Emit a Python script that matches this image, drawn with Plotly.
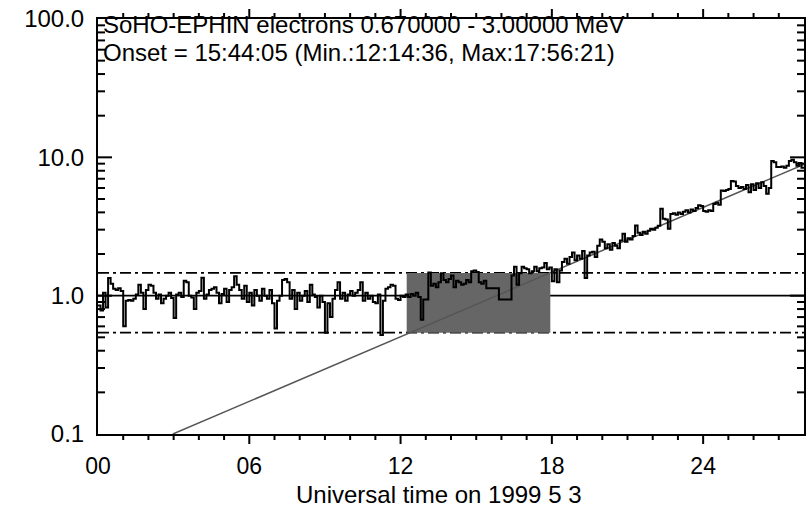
import numpy as np
import plotly.graph_objects as go

# ---- data ----
bin_hours = 0.1
start_hour = 0.0
counts = [
    # hour 0
    0.85, 0.78, 1.05, 0.82, 1.34, 1.22, 1.12, 1.10, 1.13, 1.08,
    # hour 1
    0.60, 0.92, 0.93, 0.92, 0.95, 1.02, 1.20, 1.05, 0.80, 1.10,
    # hour 2
    1.20, 1.18, 1.05, 0.95, 1.02, 0.88, 0.95, 1.00, 1.05, 0.96,
    # hour 3
    0.69, 1.02, 1.05, 0.98, 1.28, 1.25, 1.00, 0.97, 0.80, 1.05,
    # hour 4
    1.08, 1.35, 0.95, 1.02, 1.10, 1.12, 1.15, 1.05, 0.88, 1.03,
    # hour 5
    1.12, 0.90, 1.10, 1.15, 1.38, 1.20, 1.10, 0.95, 1.18, 0.90,
    # hour 6
    1.05, 0.85, 1.10, 1.00, 0.92, 1.12, 1.00, 0.95, 1.10, 0.88,
    # hour 7
    0.58, 0.92, 1.00, 1.30, 1.32, 1.25, 0.95, 1.10, 0.80, 1.05,
    # hour 8
    0.92, 1.00, 1.08, 0.90, 1.20, 1.02, 0.98, 0.82, 1.00, 0.90,
    # hour 9
    0.54, 0.88, 0.70, 0.95, 1.10, 1.25, 0.95, 1.05, 0.92, 1.02,
    # hour 10
    1.08, 1.00, 1.05, 1.10, 1.25, 0.92, 1.05, 0.95, 1.00, 0.90,
    # hour 11
    0.88, 1.02, 0.52, 0.92, 1.12, 1.15, 1.20, 1.18, 0.95, 0.93,
    # hour 12
    1.00, 0.98, 1.02, 0.98, 1.03, 1.00, 1.05, 0.98, 0.67, 0.94,
    # hour 13
    0.94, 1.47, 1.18, 1.22, 1.15, 1.25, 1.45, 1.30, 1.25, 1.32,
    # hour 14
    1.40, 1.15, 1.28, 1.25, 1.20, 1.22, 1.30, 1.25, 1.50, 1.52,
    # hour 15
    1.48, 1.25, 1.22, 1.28, 1.13, 1.13, 1.13, 1.13, 1.13, 0.94,
    # hour 16
    0.94, 0.94, 0.94, 0.94, 1.40, 1.62, 1.20, 1.45, 1.62, 1.58,
    # hour 17
    1.55, 1.45, 1.50, 1.62, 1.50, 1.58, 1.60, 1.72, 1.55, 1.60,
    # hour 18
    1.27, 1.55, 1.25, 1.52, 1.75, 1.85, 1.70, 1.90, 2.05, 1.80,
    # hour 19
    1.95, 1.85, 2.10, 1.34, 1.95, 2.05, 2.08, 1.90, 2.30, 2.55,
    # hour 20
    2.45, 2.20, 2.35, 2.15, 2.40, 2.30, 2.20, 2.50, 2.80, 2.45,
    # hour 21
    2.60, 2.55, 2.70, 3.22, 2.85, 2.75, 2.90, 2.80, 2.95, 3.05,
    # hour 22
    3.00, 3.10, 3.20, 4.25, 3.60, 3.55, 3.05, 3.90, 3.95, 3.85,
    # hour 23
    4.00, 3.90, 4.05, 4.15, 4.00, 4.20, 4.10, 4.30, 4.50, 4.45,
    # hour 24
    4.10, 4.05, 4.15, 4.10, 4.60, 4.70, 4.55, 5.75, 5.70, 5.80,
    # hour 25
    5.90, 6.75, 6.70, 6.20, 6.00, 6.10, 5.90, 6.30, 5.60, 6.40,
    # hour 26
    5.80, 6.50, 6.00, 6.60, 6.20, 5.45, 6.00, 9.40, 9.20, 8.50,
    # hour 27
    8.50, 8.60, 8.40, 8.70, 9.40, 9.60, 9.20, 8.70, 9.10, 8.40,
]

background_mean = 1.0
threshold_upper = 1.46
threshold_lower = 0.54
window_start = 12.243   # 12:14:36
window_end = 17.939     # 17:56:21
fit_x = [2.97, 28.0]
fit_y = [0.1, 8.9]

x_range = [0, 28]
x_tickvals = [0, 6, 12, 18, 24]
x_ticktext = ["00", "06", "12", "18", "24"]
x_minor = [h for h in range(1, 28) if h % 6 != 0]
y_tickvals = [0.1, 1, 10, 100]
y_ticktext = ["0.1", "1.0", "10.0", "100.0"]
y_major_marks = [1, 10]
y_minor = [m * d for d in (0.1, 1, 10) for m in range(2, 10)]

title_line1 = "SoHO-EPHIN electrons 0.670000 - 3.00000 MeV"
title_line2 = "Onset = 15:44:05 (Min.:12:14:36, Max:17:56:21)"
x_title = "Universal time on 1999 5 3"

# ---- build ----
t = start_hour + bin_hours * np.arange(len(counts))
t_plot = np.append(t, x_range[1])
c_plot = counts + [counts[-1]]

FONT = "Liberation Sans, Arial, sans-serif"

fig = go.Figure()

fig.add_trace(go.Scatter(
    x=fit_x, y=fit_y, mode="lines",
    line=dict(color="#555555", width=1.5), hoverinfo="skip", showlegend=False))

fig.add_trace(go.Scatter(
    x=t_plot, y=c_plot, mode="lines", line_shape="hv",
    line=dict(color="black", width=2), showlegend=False))

dashdot = "11px,4px,3px,4px"
shapes = [
    dict(type="line", xref="x", yref="y", x0=x_range[0], x1=x_range[1],
         y0=background_mean, y1=background_mean, layer="below",
         line=dict(color="black", width=1.8)),
    dict(type="line", xref="x", yref="y", x0=x_range[0], x1=x_range[1],
         y0=threshold_upper, y1=threshold_upper, layer="below",
         line=dict(color="black", width=1.8, dash=dashdot)),
    dict(type="line", xref="x", yref="y", x0=x_range[0], x1=x_range[1],
         y0=threshold_lower, y1=threshold_lower, layer="below",
         line=dict(color="black", width=1.8, dash=dashdot)),
    dict(type="rect", xref="x", yref="y", x0=window_start, x1=window_end,
         y0=threshold_lower, y1=threshold_upper, layer="below",
         fillcolor="#666666", line=dict(width=0)),
]

TICK = dict(color="black", width=2)


def x_tick(v, length, top):
    return dict(type="line", xref="x", yref="paper", x0=v, x1=v,
                ysizemode="pixel", yanchor=1 if top else 0,
                y0=0, y1=length if top else -length, line=TICK)


def y_tick(v, length, right):
    return dict(type="line", xref="paper", yref="y", y0=v, y1=v,
                xsizemode="pixel", xanchor=1 if right else 0,
                x0=0, x1=-length if right else length, line=TICK)


for v in x_tickvals[1:]:
    shapes += [x_tick(v, 10, False), x_tick(v, 10, True)]
for v in x_minor:
    shapes += [x_tick(v, 6, False), x_tick(v, 6, True)]
for v in y_major_marks:
    shapes += [y_tick(v, 14, False), y_tick(v, 14, True)]
for v in y_minor:
    shapes += [y_tick(v, 7, False), y_tick(v, 7, True)]

annotations = [
    dict(xref="paper", yref="paper", x=0.004, y=0.987, xanchor="left", yanchor="middle",
         text=title_line1, showarrow=False, font=dict(family=FONT, size=24, color="black")),
    dict(xref="paper", yref="paper", x=0.004, y=0.919, xanchor="left", yanchor="middle",
         text=title_line2, showarrow=False, font=dict(family=FONT, size=24, color="black")),
    dict(xref="paper", yref="paper", x=0.483, y=-0.145, xanchor="center", yanchor="middle",
         text=x_title, showarrow=False, font=dict(family=FONT, size=24, color="black")),
]

fig.update_layout(
    width=811, height=511,
    margin=dict(l=98, r=5, t=15, b=77),
    paper_bgcolor="white", plot_bgcolor="white",
    shapes=shapes, annotations=annotations,
    showlegend=False,
    font=dict(family=FONT, size=23, color="black"),
)

fig.update_xaxes(
    range=x_range, showgrid=False, zeroline=False,
    showline=True, linecolor="black", linewidth=2, mirror=True,
    ticks="", tickvals=x_tickvals, ticktext=x_ticktext, ticklabelstandoff=10,
    tickfont=dict(family=FONT, size=23, color="black"),
)
fig.update_yaxes(
    type="log", range=[-1, 2], showgrid=False, zeroline=False,
    showline=True, linecolor="black", linewidth=2, mirror=True,
    ticks="", tickvals=y_tickvals, ticktext=y_ticktext, ticklabelstandoff=7,
    tickfont=dict(family=FONT, size=24, color="black"),
)

fig.write_html("out.html")
